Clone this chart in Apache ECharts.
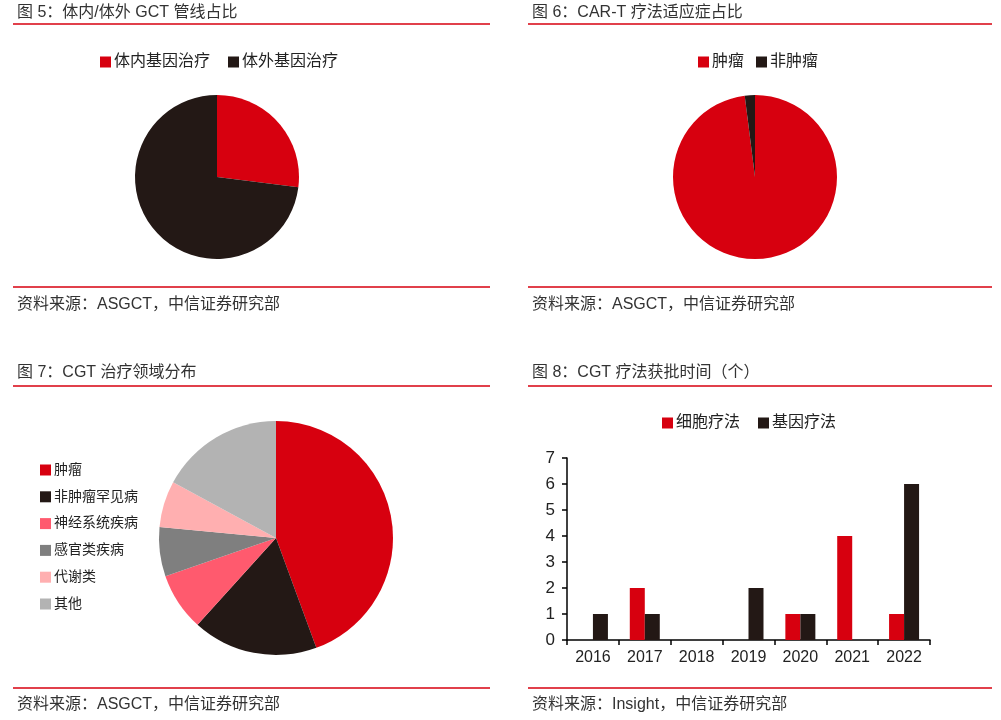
<!DOCTYPE html>
<html>
<head>
<meta charset="utf-8">
<script src="https://cdn.jsdelivr.net/npm/echarts@6/dist/echarts.min.js"></script>
<style>
html,body{margin:0;padding:0;background:#fff;}
#c{width:1001px;height:720px;}
</style>
</head>
<body>
<div id="c"></div>
<script>
// ---- Data ----
const pie1Names = ['体内基因治疗', '体外基因治疗'];
const pie1Values = [27, 73];

const pie2Names = ['肿瘤', '非肿瘤'];
const pie2Values = [98, 2];

const pie3Names = ['肿瘤', '非肿瘤罕见病', '神经系统疾病', '感官类疾病', '代谢类', '其他'];
const pie3Values = [44.4, 17.3, 8.0, 6.8, 6.4, 17.1];

const barYears = ['2016', '2017', '2018', '2019', '2020', '2021', '2022'];
const cellTherapy = [0, 2, 0, 0, 1, 4, 1];
const geneTherapy = [1, 1, 0, 2, 1, 0, 6];

const titles = ['图 5：体内/体外 GCT 管线占比', '图 6：CAR-T 疗法适应症占比', '图 7：CGT 治疗领域分布', '图 8：CGT 疗法获批时间（个）'];
const sources = ['资料来源：ASGCT，中信证券研究部', '资料来源：ASGCT，中信证券研究部', '资料来源：ASGCT，中信证券研究部', '资料来源：Insight，中信证券研究部'];

// ---- Styles ----
const RED = '#d7000f', DARK = '#231815';
const pie12Colors = [RED, DARK];
const pie3Colors = [RED, DARK, '#ff5a6e', '#7f7f7f', '#ffafb0', '#b3b3b3'];
const FONT = '"Liberation Sans", "Noto Sans CJK SC", sans-serif';
const TXT = '#222';

function toData(names, values, colors) {
  return names.map((n, i) => ({ name: n, value: values[i], itemStyle: { color: colors[i] } }));
}

const graphic = [];
const panels = [
  { x1: 13, x2: 490, tx: 17, ty: 12.5, top: 24, bot: 287, sy: 304.5 },
  { x1: 528, x2: 992, tx: 532, ty: 12.5, top: 24, bot: 287, sy: 304.5 },
  { x1: 13, x2: 490, tx: 17, ty: 373, top: 386, bot: 688, sy: 705 },
  { x1: 528, x2: 992, tx: 532, ty: 373, top: 386, bot: 688, sy: 705 }
];
panels.forEach((p, i) => {
  graphic.push({ type: 'text', x: p.tx, y: p.ty, silent: true,
    style: { text: titles[i], fill: '#333', font: '16px ' + FONT, verticalAlign: 'middle', align: 'left' } });
  graphic.push({ type: 'line', silent: true, shape: { x1: p.x1, y1: p.top, x2: p.x2, y2: p.top }, style: { stroke: RED, lineWidth: 1.5 } });
  graphic.push({ type: 'line', silent: true, shape: { x1: p.x1, y1: p.bot, x2: p.x2, y2: p.bot }, style: { stroke: RED, lineWidth: 1.5 } });
  graphic.push({ type: 'text', x: p.tx, y: p.sy, silent: true,
    style: { text: sources[i], fill: '#333', font: '16px ' + FONT, verticalAlign: 'middle', align: 'left' } });
});

const pieBase = { type: 'pie', silent: true, startAngle: 90, clockwise: true, label: { show: false }, labelLine: { show: false }, emphasis: { disabled: true }, avoidLabelOverlap: false };
const legendBase = { icon: 'rect', itemWidth: 11, itemHeight: 11, padding: 0, selectedMode: false };

const option = {
  animation: false,
  textStyle: { fontFamily: FONT },
  graphic: graphic,
  legend: [
    Object.assign({}, legendBase, { data: pie1Names, left: 100, top: 54, itemGap: 18,
      textStyle: { fontSize: 16, color: TXT, fontFamily: FONT, padding: [0, 0, 0, -2] } }),
    Object.assign({}, legendBase, { data: pie2Names, left: 698, top: 54, itemGap: 12,
      textStyle: { fontSize: 16, color: TXT, fontFamily: FONT, padding: [0, 0, 0, -2] } }),
    Object.assign({}, legendBase, { data: pie3Names, orient: 'vertical', left: 40, top: 463, itemGap: 12.8,
      textStyle: { fontSize: 14, color: TXT, fontFamily: FONT, padding: [0, 0, 0, -2] } }),
    Object.assign({}, legendBase, { data: ['细胞疗法', '基因疗法'], left: 662, top: 415, itemGap: 18,
      textStyle: { fontSize: 16, color: TXT, fontFamily: FONT, padding: [0, 0, 0, -2] } })
  ],
  grid: { left: 567, right: 71, top: 458, bottom: 80 },
  xAxis: {
    type: 'category', data: barYears,
    axisLine: { lineStyle: { color: '#000', width: 1.5 } },
    axisTick: { show: true, length: 5, lineStyle: { color: '#000', width: 1.5 } },
    axisLabel: { fontSize: 16, color: TXT, margin: 10, fontFamily: FONT }
  },
  yAxis: {
    type: 'value', min: 0, max: 7, interval: 1,
    splitLine: { show: false },
    axisLine: { show: true, lineStyle: { color: '#000', width: 1.5 } },
    axisTick: { show: true, length: 5, lineStyle: { color: '#000', width: 1.5 } },
    axisLabel: { fontSize: 17, color: TXT, margin: 12, fontFamily: FONT }
  },
  series: [
    Object.assign({}, pieBase, { name: 'p1', center: [217, 177], radius: 82, data: toData(pie1Names, pie1Values, pie12Colors) }),
    Object.assign({}, pieBase, { name: 'p2', center: [755, 177], radius: 82, data: toData(pie2Names, pie2Values, pie12Colors) }),
    Object.assign({}, pieBase, { name: 'p3', center: [276, 538], radius: 117, data: toData(pie3Names, pie3Values, pie3Colors) }),
    { type: 'bar', name: '细胞疗法', data: cellTherapy, barWidth: 15, barGap: '0%', itemStyle: { color: RED }, silent: true },
    { type: 'bar', name: '基因疗法', data: geneTherapy, barWidth: 15, barGap: '0%', itemStyle: { color: DARK }, silent: true }
  ]
};

const chart = echarts.init(document.getElementById('c'), null, { renderer: 'canvas' });
chart.setOption(option);
</script>
</body>
</html>
